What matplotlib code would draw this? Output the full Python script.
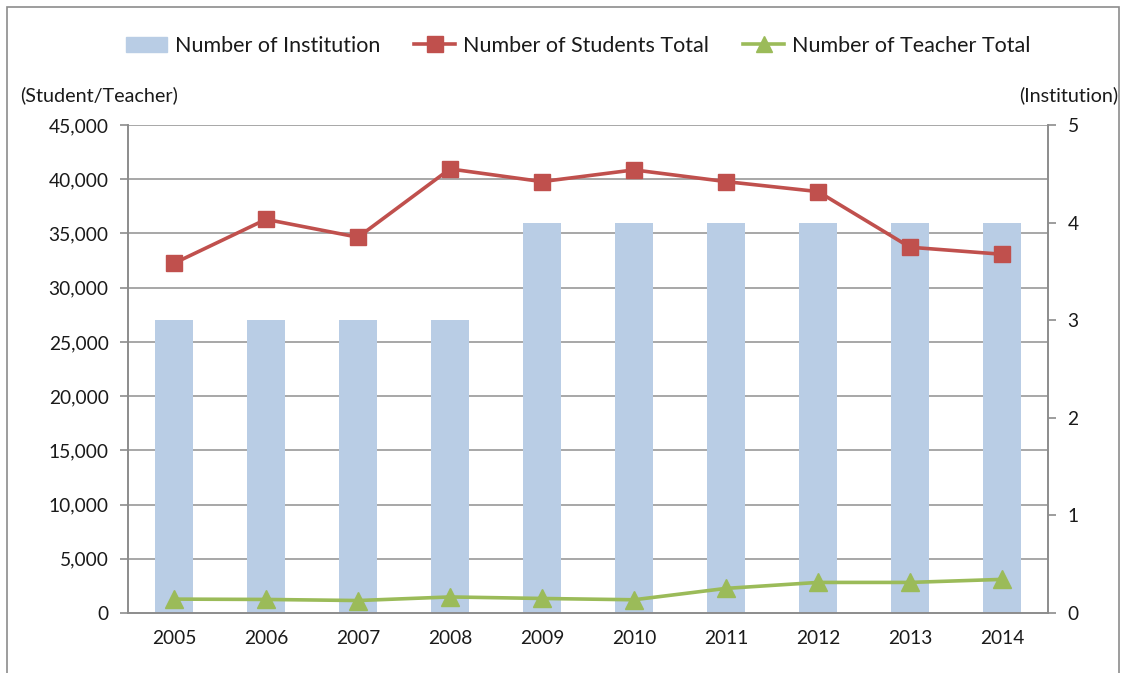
import matplotlib
matplotlib.use('Agg')
import matplotlib.pyplot as plt
import matplotlib.patches as mpatches
from matplotlib.lines import Line2D
from matplotlib.transforms import blended_transform_factory

plt.rcParams['font.family'] = ['Lato', 'DejaVu Sans']

# Yearly figures
years = ['2005', '2006', '2007', '2008', '2009', '2010', '2011', '2012', '2013', '2014']
institutions = [3, 3, 3, 3, 4, 4, 4, 4, 4, 4]
students = [32250, 36300, 34650, 40950, 39780, 40860, 39780, 38860, 33730, 33080]
teachers = [1280, 1250, 1150, 1480, 1340, 1220, 2270, 2820, 2820, 3100]

left_ticks = list(range(0, 45001, 5000))
right_ticks = [0, 1, 2, 3, 4, 5]

BAR = '#B9CDE5'
RED = '#C0504D'
GREEN = '#9BBB59'
GRID = '#A0A0A0'
TXT = '#1a1a1a'

fig = plt.figure(figsize=(11.26, 6.73), dpi=100)
fig.patch.set_facecolor('white')

# outer chart frame
fig.patches.append(mpatches.Rectangle((7 / 1126, -0.05), 1112 / 1126, 1.05 - 7 / 673,
                                      transform=fig.transFigure, fill=False,
                                      edgecolor='#8c8c8c', linewidth=1.2))

rect = [128 / 1126, 60 / 673, 920 / 1126, 488 / 673]
ax_inst = fig.add_axes(rect)
ax = ax_inst.twinx()

x = list(range(len(years)))

# institutions (bars, right scale) sit underneath
ax_inst.bar(x, institutions, width=0.405, color=BAR, zorder=2)
ax_inst.set_ylim(0, 5)
ax_inst.set_yticks(right_ticks)
ax_inst.yaxis.tick_right()

# gridlines at student/teacher scale, drawn below the bars
trans = blended_transform_factory(ax_inst.transAxes, ax.transData)
ax_inst.hlines(left_ticks[1:], 0, 1, transform=trans, colors=GRID, linewidth=1.3, zorder=1)

# students / teachers on the left scale
ax.plot(x, students, color=RED, linewidth=2.6, marker='s', markersize=11,
        markeredgecolor=RED, zorder=3)
ax.plot(x, teachers, color=GREEN, linewidth=2.6, marker='^', markersize=13,
        markeredgecolor=GREEN, zorder=3)
ax.set_ylim(0, 45000)
ax.set_yticks(left_ticks)
ax.set_yticklabels([f'{v:,}' for v in left_ticks])
ax.yaxis.tick_left()

for a in (ax, ax_inst):
    a.set_xlim(-0.5, len(years) - 0.5)
    for s in a.spines.values():
        s.set_color('#8c8c8c')
        s.set_linewidth(1.2)
    a.spines['top'].set_visible(False)

ax_inst.set_xticks([i - 0.5 for i in range(len(years) + 1)])
ax_inst.set_xticklabels([])
ax_inst.set_xticks(x, minor=True)
ax_inst.set_xticklabels(years, minor=True)
ax_inst.tick_params(axis='x', which='major', length=6, color='#8c8c8c', width=1.2, direction='out')
ax_inst.tick_params(axis='x', which='minor', length=0, pad=12, labelsize=13.8, labelcolor=TXT)
ax_inst.tick_params(axis='y', length=6, color='#8c8c8c', width=1.2, pad=8,
                    labelsize=13.8, labelcolor=TXT)
ax.tick_params(axis='y', length=6, color='#8c8c8c', width=1.2, pad=8,
               labelsize=13.8, labelcolor=TXT)
ax.set_xticks([])

fig.text(20 / 1126, 1 - 95 / 673, '(Student/Teacher)', fontsize=14.2, color=TXT,
         ha='left', va='center')
fig.text(1118 / 1126, 1 - 95 / 673, '(Institution)', fontsize=14.2, color=TXT,
         ha='right', va='center')

handles = [
    mpatches.Patch(color=BAR, label='Number of Institution'),
    Line2D([], [], color=RED, linewidth=2.6, marker='s', markersize=11,
           label='Number of Students Total'),
    Line2D([], [], color=GREEN, linewidth=2.6, marker='^', markersize=12,
           label='Number of Teacher Total'),
]
fig.legend(handles=handles, loc='center', bbox_to_anchor=(578 / 1126, 1 - 46 / 673), ncol=3,
           frameon=False, fontsize=15.5, handlelength=1.9, handletextpad=0.35,
           columnspacing=1.6, labelcolor=TXT)

fig.savefig('out.png', dpi=100)
